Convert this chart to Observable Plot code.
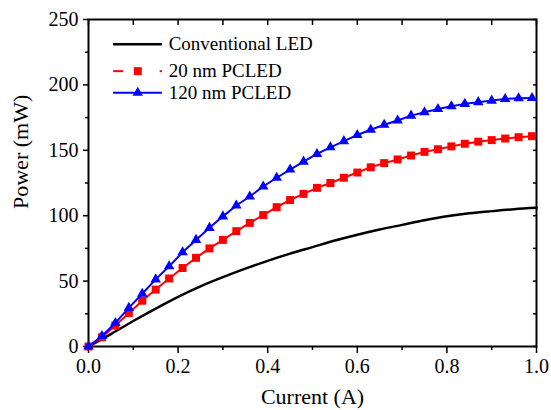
<!DOCTYPE html>
<html><head><meta charset="utf-8">
<script src="https://cdn.jsdelivr.net/npm/d3@7"></script>
<script src="https://cdn.jsdelivr.net/npm/@observablehq/plot@0.6"></script>
<style>body{margin:0;background:#fff}</style>
</head><body><div id="chart"></div>
<script>
// ---- data ----
const pcCurrent = [0,0.03,0.06,0.09,0.12,0.15,0.18,0.21,0.24,0.27,0.30,0.33,0.36,0.39,0.42,0.45,0.48,0.51,0.54,0.57,0.60,0.63,0.66,0.69,0.72,0.75,0.78,0.81,0.84,0.87,0.90,0.93,0.96,0.99];
const pc20 = [0,7,16,25.5,35,43.5,52,60,67.8,75,81.5,88.2,94.5,100.5,106.5,112,116.7,121.3,125,129,133,137,140.2,143,146,148.8,150.8,153,155,156.6,157.8,159,160,160.8];
const pc120 = [0,8,18,29.5,40.3,51.3,61.3,72,81.5,90.7,99.5,107.8,114.7,122.3,129,135.3,141.3,147.2,152.3,157,161.7,165.7,169.5,172.8,176.5,179.1,181.6,183.7,185.5,186.8,188,189.2,189.8,190];
const convCurrent = [0,0.05,0.10,0.15,0.20,0.25,0.30,0.35,0.40,0.45,0.50,0.55,0.60,0.65,0.70,0.75,0.80,0.85,0.90,0.95,1.00];
const conv = [0,9.5,19.5,29,38,46,53,59.5,65.5,71,76,81,85.5,89.5,93,96.5,99.5,101.8,103.5,105,106];
const xTicks = [0,0.2,0.4,0.6,0.8,1.0];
const xMinor = [0.1,0.3,0.5,0.7,0.9];
const yTicks = [0,50,100,150,200,250];
const yMinor = [25,75,125,175,225];
const seriesNames = ["Conventional LED","20 nm PCLED","120 nm PCLED"];
const seriesColors = ["#000000","#ff0000","#0000ff"];

// ---- tables ----
const red = pcCurrent.map((x,i)=>({x, y: pc20[i]}));
const blue = pcCurrent.map((x,i)=>({x, y: pc120[i]}));
const black = convCurrent.map((x,i)=>({x, y: conv[i]}));

// legend layout (data units)
const legY = [231, 210.5, 194];
const legX1 = 0.056, legX2 = 0.165, legXm = 0.110, legXt = 0.179;
const legend = seriesNames.map((name,i)=>({name, color: seriesColors[i], y: legY[i]}));

const allX = xTicks.concat(xMinor);
const allY = yTicks.concat(yMinor);

const chart = Plot.plot({
  width: 551, height: 410,
  marginLeft: 88, marginRight: 15, marginTop: 19, marginBottom: 64,
  style: {fontFamily: "'Liberation Serif', 'Times New Roman', serif", fontSize: "20px", background: "#fff", color: "#000"},
  x: {domain: [0,1]},
  y: {domain: [0,250]},
  marks: [
    Plot.axisX({ticks: xTicks, tickSize: 7, tickPadding: 5, tickFormat: d3.format(".1f"), fontSize: 20, label: null, strokeWidth: 1.5}),
    Plot.axisX({ticks: xMinor, tickSize: 4, tickFormat: () => "", label: null, strokeWidth: 1.5}),
    Plot.axisY({ticks: yTicks, tickSize: 5, tickPadding: 5, tickFormat: d3.format("d"), fontSize: 20, label: null, strokeWidth: 1.5}),
    Plot.axisY({ticks: yMinor, tickSize: 3, tickFormat: () => "", label: null, strokeWidth: 1.5}),
    Plot.axisX({anchor: "top", ticks: allX, tickSize: -5, tickFormat: () => "", label: null, strokeWidth: 1.5}),
    Plot.axisY({anchor: "right", ticks: allY, tickSize: -4, tickFormat: () => "", label: null, strokeWidth: 1.5}),
    Plot.frame({strokeWidth: 2}),
    Plot.line(black, {x: "x", y: "y", stroke: seriesColors[0], strokeWidth: 2.5, curve: "monotone-x"}),
    Plot.line(red, {x: "x", y: "y", stroke: seriesColors[1], strokeWidth: 2}),
    Plot.dot(red, {x: "x", y: "y", symbol: "square", fill: seriesColors[1], r: 4.5}),
    Plot.line(blue, {x: "x", y: "y", stroke: seriesColors[2], strokeWidth: 2}),
    Plot.dot(blue, {x: "x", y: "y", symbol: "triangle", fill: seriesColors[2], r: 3.9}),
    // legend
    Plot.ruleY([legend[0]], {y: "y", x1: legX1, x2: legX2, stroke: "color", strokeWidth: 2.5}),
    Plot.ruleY([legend[1]], {y: "y", x1: legX1, x2: 0.078, stroke: "color", strokeWidth: 2}),
    Plot.ruleY([legend[1]], {y: "y", x1: 0.160, x2: legX2, stroke: "color", strokeWidth: 2}),
    Plot.dot([legend[1]], {x: () => legXm, y: "y", symbol: "square", fill: "color", r: 4.5}),
    Plot.ruleY([legend[2]], {y: "y", x1: legX1, x2: legX2, stroke: "color", strokeWidth: 2}),
    Plot.dot([legend[2]], {x: () => legXm, y: "y", symbol: "triangle", fill: "color", r: 3.9}),
    Plot.text(legend, {x: () => legXt, y: "y", text: "name", textAnchor: "start", fontSize: 19, fill: "#000"}),
    // axis titles
    Plot.text(["Current (A)"], {frameAnchor: "bottom", dy: 57, fontSize: 22, fill: "#000"}),
    Plot.text(["Power (mW)"], {frameAnchor: "left", dx: -68, dy: 26, rotate: -90, fontSize: 22, fill: "#000"})
  ]
});
document.getElementById("chart").appendChild(chart);
</script>
</body></html>
